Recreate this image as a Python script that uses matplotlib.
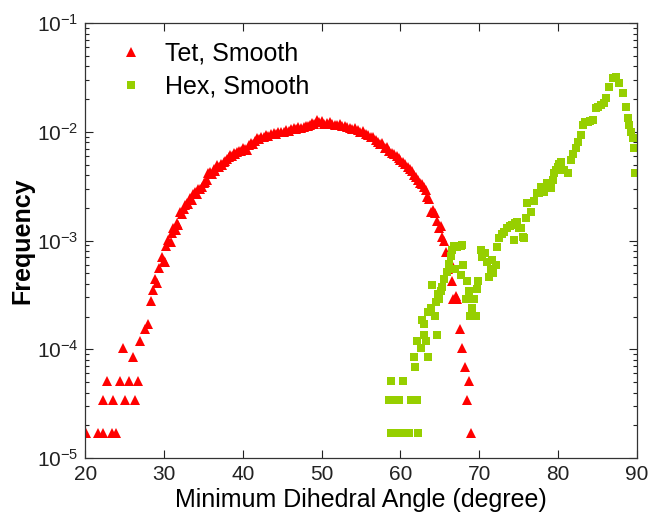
import matplotlib
matplotlib.use("Agg")
import matplotlib.pyplot as plt
import numpy as np

plt.rcParams['font.family'] = ['Liberation Sans', 'DejaVu Sans']
plt.rcParams['mathtext.fontset'] = 'custom'
plt.rcParams['mathtext.rm'] = 'Liberation Sans'
plt.rcParams['mathtext.it'] = 'Liberation Sans:italic'
plt.rcParams['mathtext.bf'] = 'Liberation Sans:bold'
plt.rcParams['mathtext.default'] = 'regular'

# ---- data: Tet, Smooth ----
tet_x = [20.06, 21.63, 22.19, 22.26, 22.70, 23.33, 23.54, 23.88, 24.39, 24.81,
         25.03, 25.57, 26.08, 26.30, 26.72, 26.93, 27.57, 27.95, 28.33, 28.60,
         28.84, 29.06, 29.39, 29.69, 29.95, 30.11, 30.24, 30.53, 30.80, 30.97,
         31.17, 31.45, 31.60, 31.81, 32.02, 32.30, 32.50, 32.66, 32.87, 33.05,
         33.29, 33.50, 33.68, 33.93, 34.15, 34.35, 34.57, 34.80, 35.00, 35.20,
         35.40, 35.58, 35.84, 36.05, 36.30, 36.50, 36.69, 36.90, 37.15, 37.40,
         37.60, 37.75, 38.00, 38.20, 38.38, 38.60, 38.85, 39.05, 39.24, 39.50,
         39.75, 40.00, 40.25, 40.51, 40.75, 41.00, 41.30, 41.55, 41.78, 42.05,
         42.30, 42.62, 42.90, 43.20, 43.50, 43.89, 44.20, 44.50, 44.80, 45.17,
         45.50, 45.80, 46.10, 46.44, 46.75, 47.05, 47.40, 47.71, 48.00, 48.30,
         48.55, 48.78, 49.05, 49.41, 49.70, 50.00, 50.35, 50.69, 51.00, 51.30,
         51.65, 51.96, 52.30, 52.60, 52.90, 53.23, 53.55, 53.90, 54.20, 54.55,
         54.92, 55.25, 55.60, 55.90, 56.20, 56.55, 56.90, 57.20, 57.40, 57.70,
         58.00, 58.30, 58.60, 58.90, 59.20, 59.50, 59.80, 60.00, 60.30, 60.60,
         60.90, 61.20, 61.45, 61.70, 62.00, 62.25, 62.50, 62.75, 63.00, 63.20,
         63.40, 63.60, 63.83, 64.10, 64.34, 64.60, 64.89, 65.10, 65.32, 65.55,
         65.74, 66.03, 66.30, 66.59, 66.72, 67.05, 67.22, 67.56, 67.86, 68.24,
         68.41, 68.71, 68.92]
tet_y = [1.7e-5, 1.7e-5, 1.7e-5, 3.4e-5, 5.1e-5, 1.7e-5, 3.4e-5, 1.7e-5, 5.1e-5, 1.02e-4,
         3.4e-5, 5.1e-5, 8.5e-5, 3.4e-5, 5.1e-5, 1.19e-4, 1.53e-4, 1.70e-4, 2.80e-4, 3.50e-4,
         4.40e-4, 4.10e-4, 5.60e-4, 7.00e-4, 6.50e-4, 6.30e-4, 8.90e-4, 1.02e-3, 9.60e-4, 1.18e-3,
         1.29e-3, 1.25e-3, 1.44e-3, 1.40e-3, 1.83e-3, 1.75e-3, 1.95e-3, 2.10e-3, 2.20e-3, 2.15e-3,
         2.45e-3, 2.38e-3, 2.70e-3, 2.80e-3, 2.65e-3, 2.95e-3, 3.00e-3, 3.10e-3, 3.35e-3, 3.45e-3,
         3.60e-3, 4.20e-3, 4.30e-3, 4.10e-3, 4.55e-3, 4.40e-3, 4.90e-3, 4.75e-3, 5.10e-3, 5.00e-3,
         5.25e-3, 5.40e-3, 5.60e-3, 5.90e-3, 6.10e-3, 5.95e-3, 6.40e-3, 6.30e-3, 6.55e-3, 6.70e-3,
         6.60e-3, 7.10e-3, 6.90e-3, 6.80e-3, 7.60e-3, 7.90e-3, 7.70e-3, 8.30e-3, 8.70e-3, 8.50e-3,
         8.90e-3, 9.00e-3, 9.30e-3, 9.20e-3, 9.60e-3, 9.70e-3, 9.50e-3, 9.90e-3, 1.00e-2, 1.00e-2,
         1.04e-2, 1.02e-2, 1.06e-2, 1.075e-2, 1.05e-2, 1.10e-2, 1.08e-2, 1.11e-2, 1.14e-2, 1.12e-2,
         1.16e-2, 1.20e-2, 1.17e-2, 1.28e-2, 1.22e-2, 1.25e-2, 1.19e-2, 1.20e-2, 1.23e-2, 1.18e-2,
         1.16e-2, 1.15e-2, 1.17e-2, 1.12e-2, 1.14e-2, 1.11e-2, 1.09e-2, 1.06e-2, 1.08e-2, 1.03e-2,
         1.00e-2, 1.01e-2, 9.60e-3, 9.40e-3, 9.00e-3, 8.90e-3, 8.40e-3, 8.10e-3, 7.80e-3, 7.90e-3,
         7.10e-3, 7.20e-3, 6.70e-3, 6.40e-3, 6.30e-3, 6.00e-3, 5.70e-3, 5.50e-3, 5.30e-3, 5.10e-3,
         4.70e-3, 4.50e-3, 4.40e-3, 4.00e-3, 3.80e-3, 3.60e-3, 3.40e-3, 3.30e-3, 3.10e-3, 2.90e-3,
         2.50e-3, 2.40e-3, 1.84e-3, 1.90e-3, 1.78e-3, 1.50e-3, 1.30e-3, 1.35e-3, 1.08e-3, 1.00e-3,
         7.90e-4, 5.50e-4, 6.50e-4, 4.20e-4, 2.89e-4, 3.10e-4, 2.89e-4, 1.53e-4, 1.02e-4, 6.8e-5,
         3.4e-5, 5.1e-5, 1.7e-5]

# ---- data: Hex, Smooth ----
hex_x = [58.75, 59.35, 60.00, 60.55, 61.10, 62.26,
         58.55, 59.15, 59.80, 61.30, 61.75, 62.10,
         58.85, 60.30, 61.83, 61.70, 63.50,
         62.55, 62.14, 63.20, 62.98, 64.60, 62.80, 63.00, 64.34, 63.50,
         63.83, 64.47, 64.90, 64.05, 64.80, 65.10, 65.32, 65.52, 65.87, 66.16,
         66.37, 66.60, 66.80, 67.23, 67.65, 67.86,
         66.92, 67.95, 67.65, 68.41, 68.70, 69.13, 68.30, 69.34, 68.80, 69.55,
         69.85, 69.77,
         70.19, 70.41, 70.70, 71.04, 71.46, 71.68, 72.10, 71.25, 71.80, 72.23,
         72.52, 72.95, 73.20, 73.59, 73.90, 74.22, 74.43, 74.60, 74.86, 75.06,
         75.28, 75.50, 75.70, 75.92, 76.13, 76.55, 76.97, 77.40, 77.61, 77.82,
         78.04, 78.24, 78.46, 78.67, 78.88, 79.10, 79.31, 79.52, 79.73, 79.95,
         80.15, 80.37, 80.79, 81.22, 81.64, 81.86, 82.28, 82.49, 82.91, 83.13,
         83.50, 83.77, 84.10, 84.40, 84.82, 85.10, 85.46, 85.80, 86.09, 86.51,
         86.94, 87.37, 87.79, 88.22, 88.64, 88.85, 89.06, 89.27, 89.49, 89.70,
         89.82]
hex_y = [1.7e-5, 1.7e-5, 1.7e-5, 1.7e-5, 1.7e-5, 1.7e-5,
         3.4e-5, 3.4e-5, 3.4e-5, 3.4e-5, 3.4e-5, 3.4e-5,
         5.1e-5, 5.1e-5, 6.8e-5, 8.5e-5, 8.5e-5,
         1.02e-4, 1.19e-4, 1.19e-4, 1.36e-4, 1.36e-4, 1.87e-4, 1.70e-4, 2.04e-4, 2.21e-4,
         2.38e-4, 2.72e-4, 2.89e-4, 3.91e-4, 3.23e-4, 3.40e-4, 3.74e-4, 4.42e-4, 5.10e-4, 6.12e-4,
         7.14e-4, 8.16e-4, 8.84e-4, 8.67e-4, 8.84e-4, 9.00e-4,
         5.50e-4, 5.95e-4, 4.80e-4, 4.20e-4, 3.40e-4, 2.38e-4, 2.89e-4, 2.89e-4, 2.04e-4, 2.04e-4,
         4.25e-4, 3.57e-4,
         8.20e-4, 7.10e-4, 7.60e-4, 6.40e-4, 5.50e-4, 6.60e-4, 5.95e-4, 4.60e-4, 5.00e-4, 8.80e-4,
         1.05e-3, 1.16e-3, 1.20e-3, 1.29e-3, 1.35e-3, 1.39e-3, 1.01e-3, 1.45e-3, 1.49e-3, 1.30e-3,
         1.29e-3, 1.08e-3, 1.05e-3, 1.60e-3, 2.20e-3, 1.84e-3, 2.30e-3, 2.72e-3, 2.72e-3, 3.13e-3,
         2.91e-3, 2.81e-3, 3.13e-3, 3.35e-3, 3.02e-3, 3.02e-3, 3.60e-3, 4.15e-3, 4.45e-3, 4.77e-3,
         5.10e-3, 5.30e-3, 4.45e-3, 4.15e-3, 5.50e-3, 6.30e-3, 7.05e-3, 8.10e-3, 9.30e-3, 1.15e-2,
         1.22e-2, 1.24e-2, 1.25e-2, 1.28e-2, 1.64e-2, 1.70e-2, 1.76e-2, 1.85e-2, 2.03e-2, 2.60e-2,
         3.10e-2, 3.20e-2, 2.79e-2, 2.28e-2, 1.70e-2, 1.33e-2, 1.15e-2, 1.00e-2, 8.70e-3, 7.05e-3,
         4.20e-3]

tet_color = '#FF0000'
hex_color = '#96CF00'

fig = plt.figure(figsize=(6.51, 5.22), dpi=100)
ax = fig.add_axes([0.1313, 0.1226, 0.8467, 0.8333])

ax.plot(tet_x, tet_y, linestyle='none', marker='^', markersize=7.5,
        color=tet_color, markeredgewidth=0, label='Tet, Smooth')
ax.plot(hex_x, hex_y, linestyle='none', marker='s', markersize=5.2,
        color=hex_color, markeredgewidth=0, label='Hex, Smooth')

ax.set_yscale('log')
ax.set_xlim(20, 90)
ax.set_ylim(1e-5, 1e-1)
ax.set_xticks([20, 30, 40, 50, 60, 70, 80, 90])
ax.set_yticks([1e-5, 1e-4, 1e-3, 1e-2, 1e-1])
ax.set_yticklabels(['$10^{-5}$', '$10^{-4}$', '$10^{-3}$', '$10^{-2}$', '$10^{-1}$'])
ax.yaxis.set_minor_locator(matplotlib.ticker.LogLocator(base=10, subs=np.arange(2, 10)))
ax.yaxis.set_minor_formatter(matplotlib.ticker.NullFormatter())

ax.tick_params(which='both', direction='in', top=True, right=True,
               labelsize=15, colors='#222222', width=0.8)
ax.tick_params(which='major', length=6, pad=5)
ax.tick_params(which='minor', length=3)
for s in ax.spines.values():
    s.set_linewidth(0.9)
    s.set_color('#333333')

ax.set_xlabel('Minimum Dihedral Angle (degree)', fontsize=18, labelpad=3)
ax.set_ylabel('Frequency', fontsize=18, fontweight='bold', labelpad=2)

leg = ax.legend(loc='upper left', bbox_to_anchor=(0.033, 0.991), frameon=False,
                fontsize=18, numpoints=1, handlelength=1.0, handletextpad=0.85,
                labelspacing=0.35, markerscale=1.0, borderaxespad=0.2)

fig.savefig('out.png', dpi=100)
